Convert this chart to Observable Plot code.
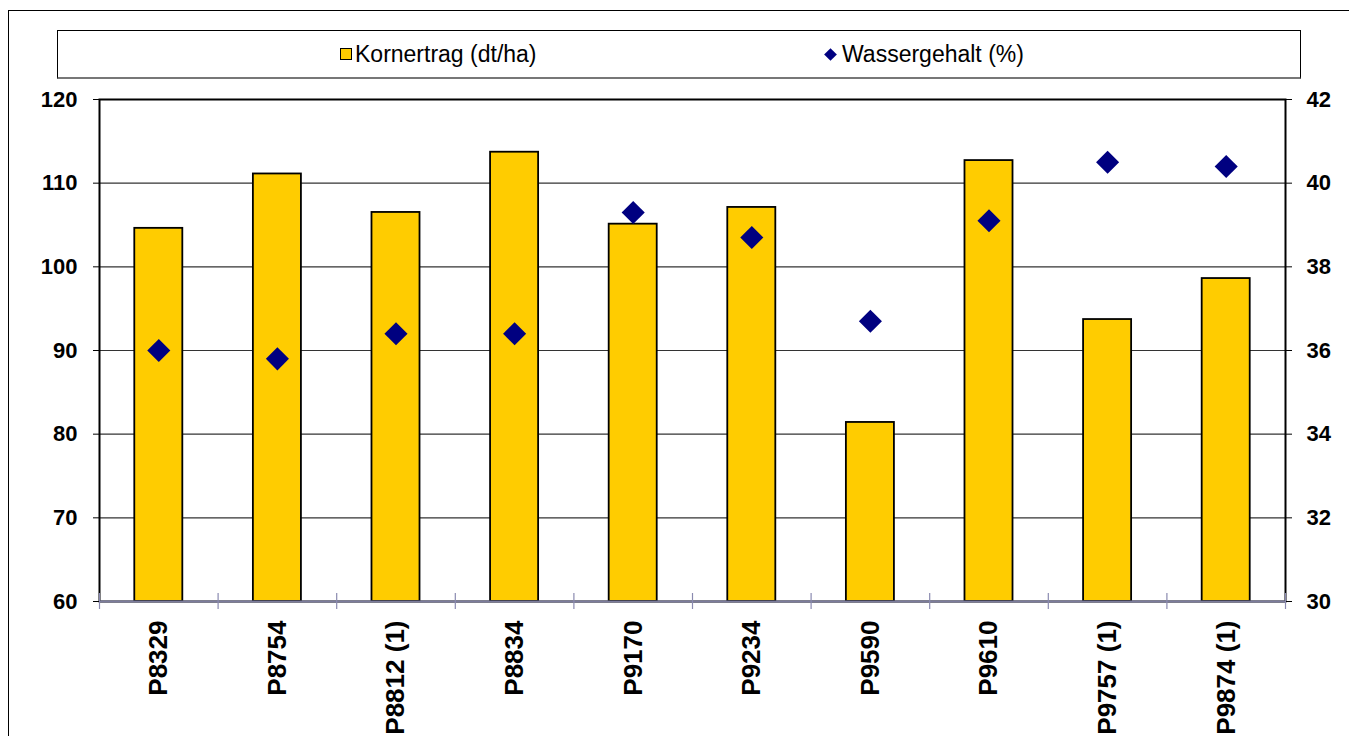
<!DOCTYPE html>
<html><head><meta charset="utf-8">
<script src="https://cdn.jsdelivr.net/npm/d3@7"></script>
<script src="https://cdn.jsdelivr.net/npm/@observablehq/plot@0.6"></script>
<style>
body{margin:0;width:1349px;height:736px;overflow:hidden;position:relative;background:#fff;font-family:"Liberation Sans",Arial,sans-serif;}
#frame{position:absolute;left:8px;top:10px;width:1400px;height:800px;border:1.5px solid #000;}
#legend{position:absolute;left:57px;top:30px;width:1242px;height:46px;border:1px solid #000;border-bottom:2px solid #777;background:#fff;}
.item{position:absolute;top:0;height:46px;display:flex;align-items:center;font-size:23px;color:#000;white-space:nowrap;}
.sw{display:inline-block;width:10px;height:10px;background:#FFCC00;border:1.5px solid #000;margin-right:3px;}
.dm{display:inline-block;width:9px;height:9px;background:#000080;transform:rotate(45deg);margin-right:7px;margin-left:2px;}
#chart{position:absolute;left:0;top:88px;}
</style>
</head><body>
<div id="frame"></div>
<div id="legend">
  <div class="item" style="left:282px"><span class="sw"></span><span>Kornertrag (dt/ha)</span></div>
  <div class="item" style="left:766px"><span class="dm"></span><span>Wassergehalt (%)</span></div>
</div>
<div id="chart"></div>
<script>
const categories = ["P8329","P8754","P8812 (1)","P8834","P9170","P9234","P9590","P9610","P9757 (1)","P9874 (1)"];
const yieldValues = [104.6,111.1,106.5,113.7,105.1,107.1,81.4,112.7,93.7,98.6];
const moistureValues = [36.0,35.8,36.4,36.4,39.3,38.7,36.7,39.1,40.5,40.4];
const leftTicks = [60,70,80,90,100,110,120];
const rightTicks = [30,32,34,36,38,40,42];
const gridTicks = [70,80,90,100,110];

const toLeft = v => 60 + (v - 30) * 5;
const data = categories.map((c, i) => ({c, y: yieldValues[i], m: moistureValues[i]}));

const W = 1349, H = 648, mL = 99, mR = 64, mT = 11, mB = 135;
const step = (W - mL - mR) / categories.length;
const plotH = H - mT - mB;
const font = '"Liberation Sans", Arial, sans-serif';

const chart = Plot.plot({
  width: W, height: H,
  marginLeft: mL, marginRight: mR, marginTop: mT, marginBottom: mB,
  style: {fontFamily: font, background: "transparent", overflow: "visible", color: "#000"},
  x: {domain: categories, paddingInner: 0.595, paddingOuter: 0.2975, round: false, axis: null, label: null},
  y: {domain: [60, 120], axis: null, label: null},
  marks: [
    Plot.ruleY(gridTicks, {stroke: "#333", strokeWidth: 1.2}),
    Plot.barY(data, {x: "c", y1: 60, y2: "y", fill: "#FFCC00", stroke: "#000", strokeWidth: 1.8}),
    Plot.dot(data, {x: "c", y: d => toLeft(d.m), symbol: "diamond2", r: 10.4, fill: "#000080", stroke: "none"}),
    Plot.frame({stroke: "#000", strokeWidth: 2}),
    Plot.ruleY([60], {stroke: "#7c7c9c", strokeWidth: 2}),
    Plot.tickX(categories, {x: d => d, dx: -step / 2, insetTop: plotH - 8, insetBottom: -8, stroke: "#8a8ab0", strokeWidth: 1.2}),
    Plot.tickX(categories.slice(-1), {x: d => d, dx: step / 2, insetTop: plotH - 8, insetBottom: -8, stroke: "#8a8ab0", strokeWidth: 1.2}),
    Plot.axisY(leftTicks, {anchor: "left", label: null, tickSize: 6, tickPadding: 16, fontSize: 22, fontWeight: "bold", stroke: "#000", fill: "#000"}),
    Plot.axisY(rightTicks.map(toLeft), {anchor: "right", label: null, tickSize: 6, tickPadding: 15, tickFormat: d => (d - 60) / 5 + 30, fontSize: 22, fontWeight: "bold", stroke: "#000", fill: "#000"}),
    Plot.axisX(categories, {anchor: "bottom", label: null, tickSize: 0, tickPadding: 19, tickRotate: -90, fontSize: 26, fontWeight: "bold", fill: "#000"})
  ]
});
document.getElementById("chart").appendChild(chart);
</script>
</body></html>
